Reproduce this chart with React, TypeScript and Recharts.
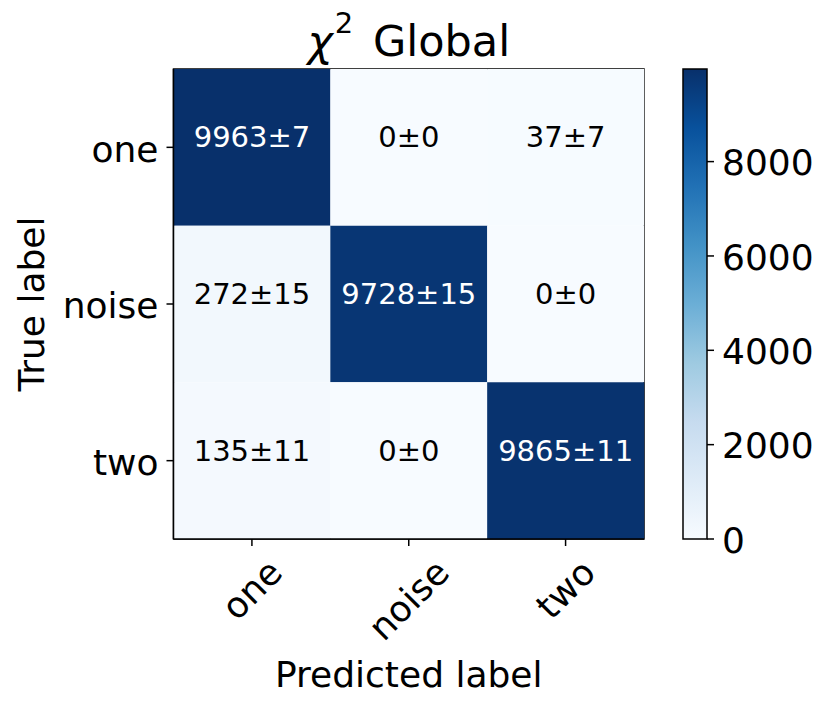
import React from "react";
import {
	Bar,
	BarChart,
	Cell,
	Label,
	LabelList,
	ReferenceArea,
	XAxis,
	YAxis,
} from "recharts";

const classes = ["one", "noise", "two"];
// rows = true label, columns = predicted label
const countsOne = [9963, 0, 37];
const countsNoise = [272, 9728, 0];
const countsTwo = [135, 0, 9865];
const errOne = [7, 0, 7];
const errNoise = [15, 15, 0];
const errTwo = [11, 0, 11];
const colorbarTicks = [0, 2000, 4000, 6000, 8000];

const counts = [countsOne, countsNoise, countsTwo];
const errors = [errOne, errNoise, errTwo];
const vmax = Math.max(...counts.flat());
const vmin = Math.min(...counts.flat());

// matplotlib "Blues"
const blues = [
	"#f7fbff",
	"#deebf7",
	"#c6dbef",
	"#9ecae1",
	"#6baed6",
	"#4292c6",
	"#2171b5",
	"#08519c",
	"#08306b",
];

function bluesColor(v: number) {
	const t = Math.min(1, Math.max(0, (v - vmin) / (vmax - vmin))) * 8;
	const i = Math.min(7, Math.floor(t));
	const f = t - i;
	const a = blues[i];
	const b = blues[i + 1];
	const ch = (s: string, k: number) => parseInt(s.slice(1 + 2 * k, 3 + 2 * k), 16);
	const mix = [0, 1, 2].map((k) => Math.round(ch(a, k) + (ch(b, k) - ch(a, k)) * f));
	return `rgb(${mix[0]},${mix[1]},${mix[2]})`;
}

// one column per predicted class, each true class is a unit-high cell
const cells = classes.map((pred) => ({ pred, one: 1, noise: 1, two: 1 }));
const colorbarData = [{ name: "cb", value: vmax }];

const FONT = '"DejaVu Sans", sans-serif';

function measure(s: string, size: number) {
	const ctx = document.createElement("canvas").getContext("2d");
	if (!ctx) return s.length * 0.62 * size;
	ctx.font = `${size}px "DejaVu Sans"`;
	return ctx.measureText(s).width;
}

function XTick({ x, y, payload }: any) {
	const w = measure(payload.value, 36);
	const cy = y + 5 + (w + 42) / (2 * Math.SQRT2);
	return (
		<text
			x={x}
			y={cy}
			transform={`rotate(-45 ${x} ${cy})`}
			textAnchor="middle"
			dominantBaseline="central"
			fontSize={36}
			fontFamily={FONT}
			fill="#000"
		>
			{payload.value}
		</text>
	);
}

function YTick({ x, y, payload }: any) {
	return (
		<text x={x} y={y} dy="0.4em" textAnchor="end" fontSize={36} fontFamily={FONT} fill="#000">
			{classes[Math.floor(payload.value)]}
		</text>
	);
}

function CbTick({ x, y, payload }: any) {
	return (
		<text x={x} y={y} dy="0.38em" textAnchor="start" fontSize={36} fontFamily={FONT} fill="#000">
			{payload.value}
		</text>
	);
}

function cellLabel(row: number) {
	return (props: any) => {
		const { x, y, width, height, index } = props;
		const v = counts[row][index];
		return (
			<text
				x={x + width / 2}
				y={y + height / 2}
				textAnchor="middle"
				fontSize={29}
				fontFamily={FONT}
				fill={v > vmax / 2 ? "#fff" : "#000"}
			>
				{`${v}±${errors[row][index]}`}
			</text>
		);
	};
}

export default function App() {
	return (
		<div
			style={{
				position: "absolute",
				left: 0,
				top: 0,
				width: 831,
				height: 710,
				background: "#fff",
				fontFamily: FONT,
			}}
		>
			<svg width={831} height={70} style={{ position: "absolute", left: 0, top: 0 }}>
				<text x={408.75} y={55.5} textAnchor="middle" fontSize={43} fontFamily={FONT} fill="#000">
					<tspan fontStyle="italic">χ</tspan>
					<tspan dy={-23} dx={2} fontSize={29}>
						2
					</tspan>
					<tspan dy={23} dx={6}>
						{"\u00a0Global"}
					</tspan>
				</text>
			</svg>
			<div style={{ position: "absolute", left: 0, top: 0 }}>
				<BarChart
					width={831}
					height={710}
					data={cells}
					margin={{ top: 69, right: 187, bottom: 71, left: 73.5 }}
					barCategoryGap={0}
					barGap={0}
				>
					<XAxis
						dataKey="pred"
						height={100}
						interval={0}
						tickSize={7}
						tickMargin={0}
						tick={<XTick />}
						axisLine={{ stroke: "#000", strokeWidth: 1.5 }}
						tickLine={{ stroke: "#000", strokeWidth: 1.5 }}
					>
						<Label
							content={({ viewBox }: any) => (
								<text
									x={viewBox.x + viewBox.width / 2}
									y={687}
									textAnchor="middle"
									fontSize={36}
									fontFamily={FONT}
									fill="#000"
								>
									Predicted label
								</text>
							)}
						/>
					</XAxis>
					<YAxis
						type="number"
						domain={[0, 3]}
						reversed
						ticks={[0.5, 1.5, 2.5]}
						interval={0}
						width={100}
						tickSize={7}
						tickMargin={8}
						tick={<YTick />}
						axisLine={{ stroke: "#000", strokeWidth: 1.5 }}
						tickLine={{ stroke: "#000", strokeWidth: 1.5 }}
					>
						<Label
							content={({ viewBox }: any) => {
								const cx = 44;
								const cy = viewBox.y + viewBox.height / 2;
								return (
									<text
										x={cx}
										y={cy}
										transform={`rotate(-90 ${cx} ${cy})`}
										textAnchor="middle"
										fontSize={36}
										fontFamily={FONT}
										fill="#000"
									>
										True label
									</text>
								);
							}}
						/>
					</YAxis>
					{classes.map((row, i) => (
						<Bar key={row} dataKey={row} stackId="cm" isAnimationActive={false}>
							{classes.map((pred, j) => (
								<Cell key={pred} fill={bluesColor(counts[i][j])} />
							))}
							<LabelList content={cellLabel(i)} />
						</Bar>
					))}
					<ReferenceArea
						x1="one"
						x2="two"
						y1={0}
						y2={3}
						fill="none"
						stroke="#000"
						strokeWidth={1.5}
						ifOverflow="visible"
					/>
				</BarChart>
			</div>
			<div style={{ position: "absolute", left: 660, top: 0 }}>
				<BarChart
					width={171}
					height={710}
					data={colorbarData}
					margin={{ top: 69, right: 24, bottom: 171, left: 23 }}
					barCategoryGap={0}
				>
					<defs>
						<linearGradient id="bluesBar" x1="0" y1="1" x2="0" y2="0">
							{blues.map((c, k) => (
								<stop key={c} offset={k / (blues.length - 1)} stopColor={c} />
							))}
						</linearGradient>
					</defs>
					<XAxis dataKey="name" hide />
					<YAxis
						orientation="right"
						type="number"
						domain={[vmin, vmax]}
						ticks={colorbarTicks}
						interval={0}
						width={100}
						tickSize={7}
						tickMargin={8}
						tick={<CbTick />}
						axisLine={false}
						tickLine={{ stroke: "#000", strokeWidth: 1.5 }}
					/>
					<Bar
						dataKey="value"
						fill="url(#bluesBar)"
						stroke="#000"
						strokeWidth={1.5}
						isAnimationActive={false}
					/>
				</BarChart>
			</div>
		</div>
	);
}
